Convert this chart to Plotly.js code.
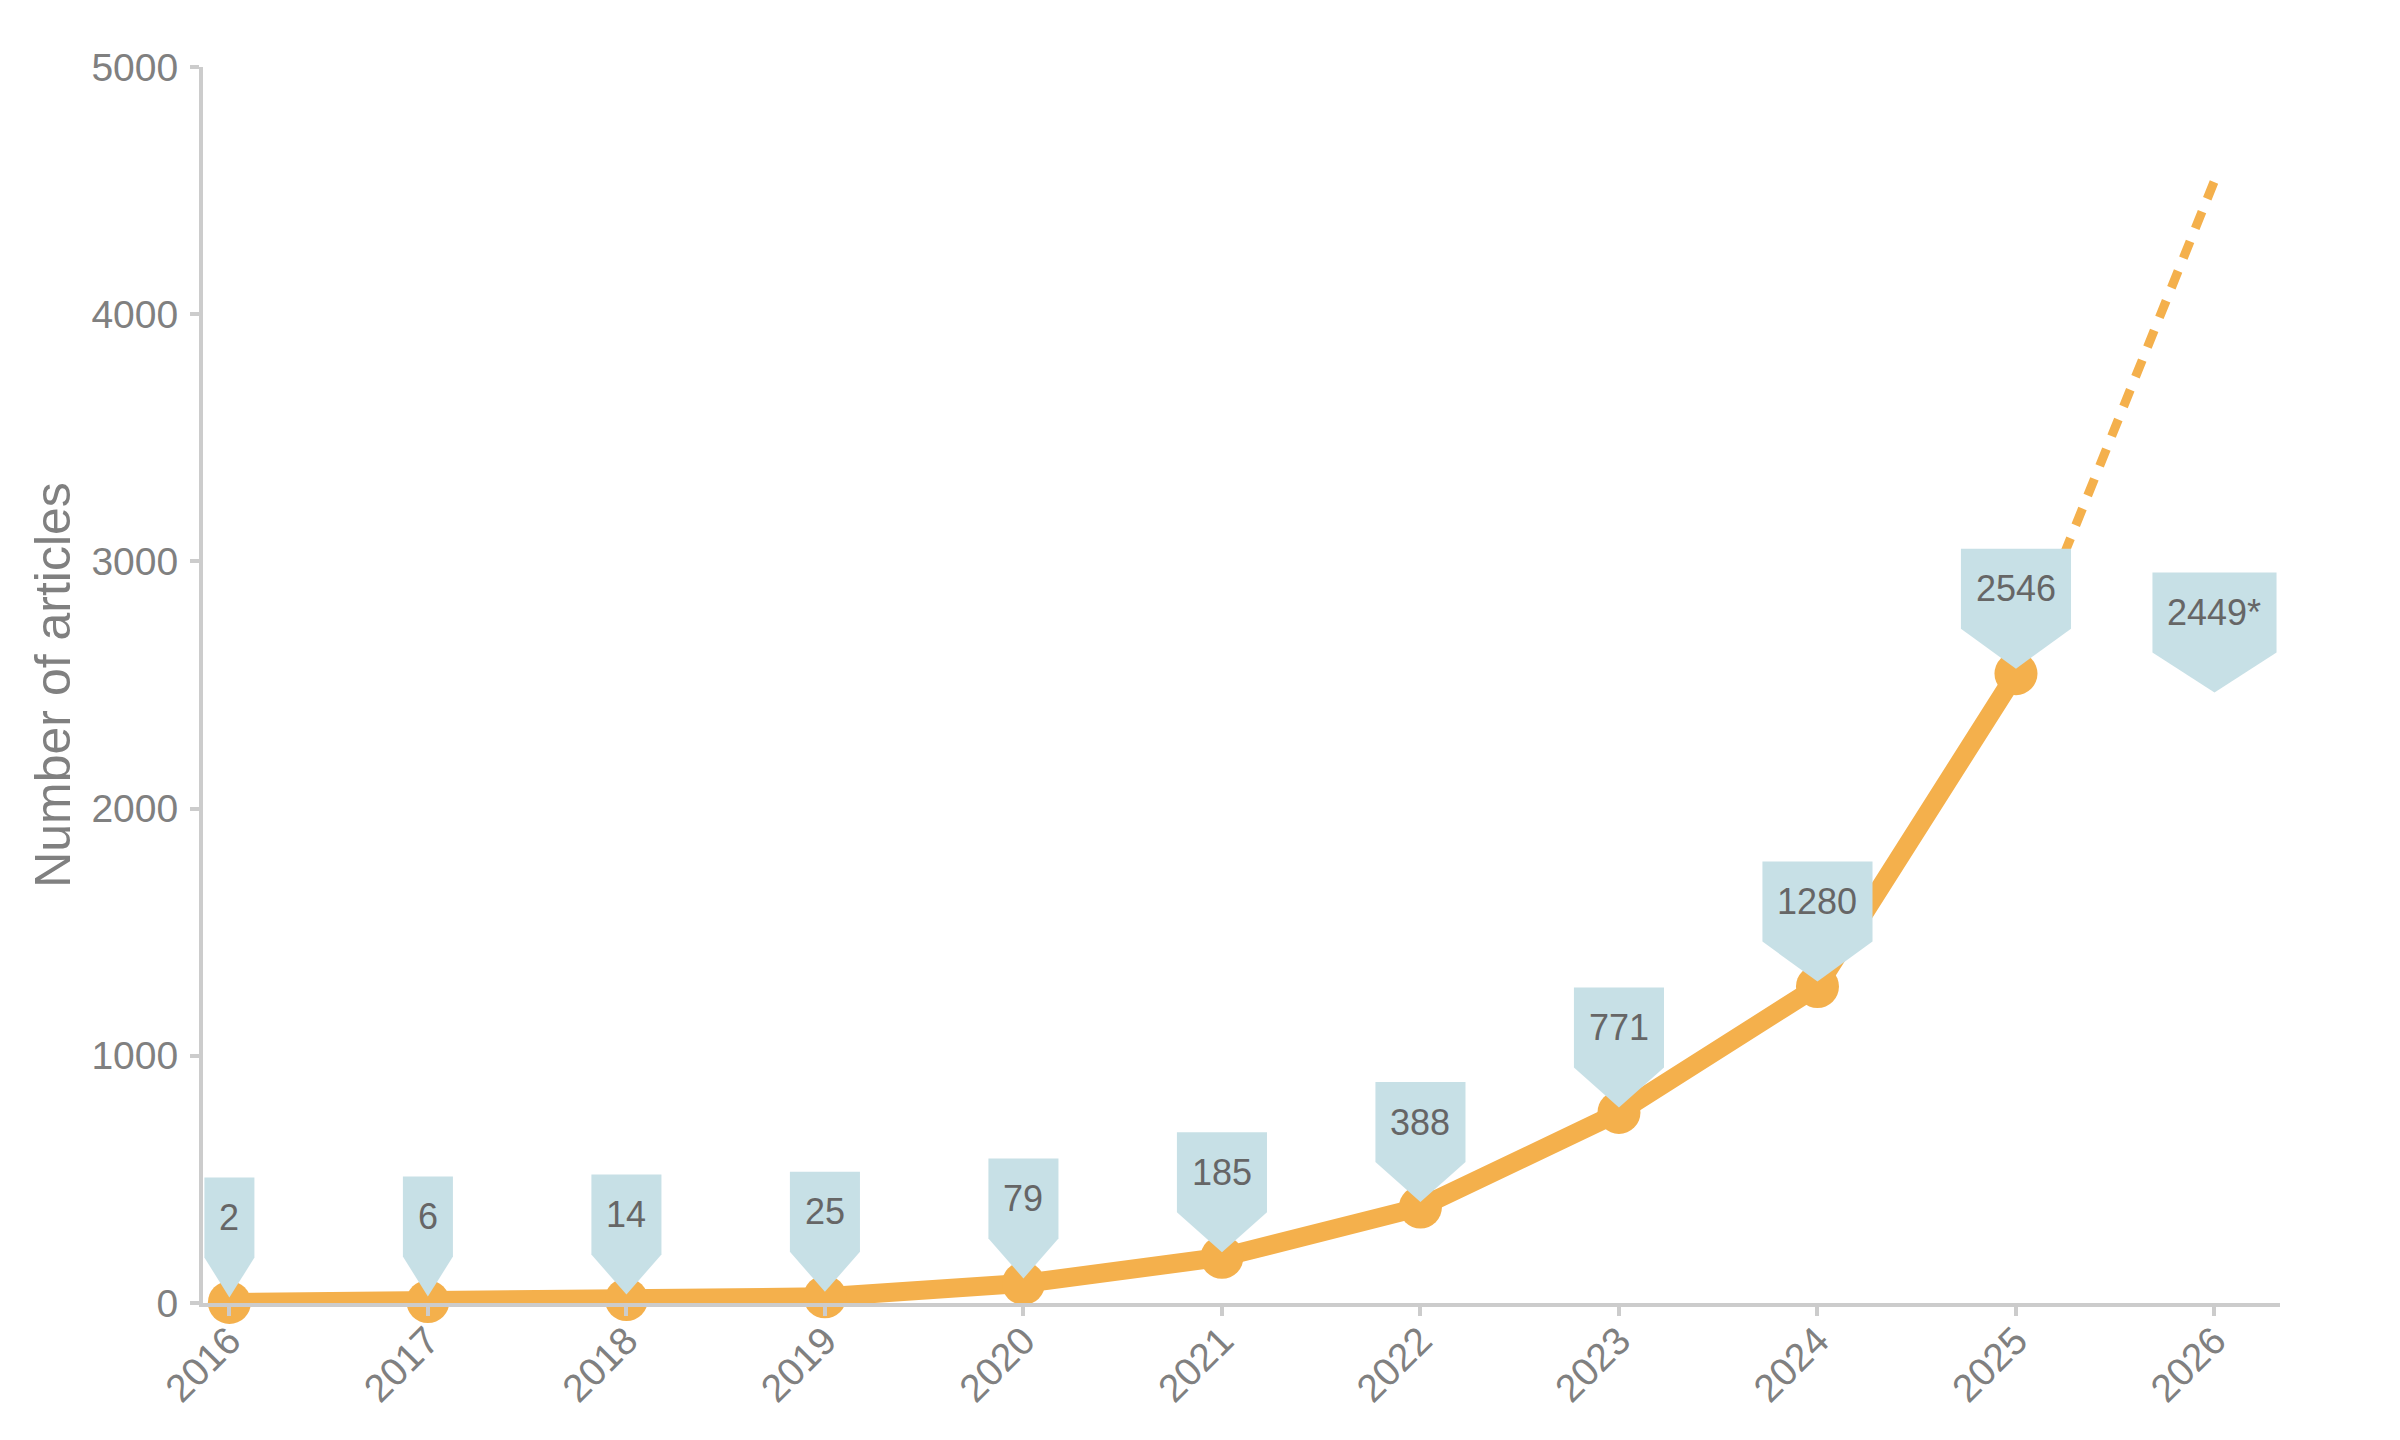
<!DOCTYPE html>
<html>
<head>
<meta charset="utf-8">
<script src="https://cdn.plot.ly/plotly-3.0.1.min.js"></script>
<style>
  html, body { margin: 0; padding: 0; background: #fff; }
  #chart { width: 2400px; height: 1440px; }
</style>
</head>
<body>
<div id="chart"></div>
<script>
// values
const years = [2016, 2017, 2018, 2019, 2020, 2021, 2022, 2023, 2024, 2025];
const articles = [2, 6, 14, 25, 79, 185, 388, 771, 1280, 2546];
const partialYear = 2026;
const partialValue = 2449;          // year to date, shown as "2449*"
const projectedValue = 4540;        // end of the dotted projection
const tickYears = [2016, 2017, 2018, 2019, 2020, 2021, 2022, 2023, 2024, 2025, 2026];

const FONT = '"Liberation Sans", Arial, Helvetica, sans-serif';
const ORANGE = '#f4b04c';
const CALLOUT = '#c7e0e6';
const GREY = '#808080';

// callout geometry in pixels, relative to the data point (y up)
const labelSize = 36;
const gap = 5, tipH = 40, boxH = 80, padX = 15;

const ctx = document.createElement('canvas').getContext('2d');
ctx.font = labelSize + 'px ' + FONT;
const textW = (s) => ctx.measureText(s).width;

// pentagon shaped label pointing down at (x, y)
const callout = (x, y, text) => {
    const hw = textW(text) / 2 + padX;
    return {
        type: 'path',
        xref: 'x', yref: 'y',
        xsizemode: 'pixel', ysizemode: 'pixel',
        xanchor: x, yanchor: y,
        path: `M 0 ${gap} L ${hw} ${gap + tipH} L ${hw} ${gap + tipH + boxH} ` +
              `L ${-hw} ${gap + tipH + boxH} L ${-hw} ${gap + tipH} Z`,
        fillcolor: CALLOUT,
        line: { width: 0 },
        layer: 'above'
    };
};

const calloutText = (x, y, text) => ({
    x: x, y: y, xref: 'x', yref: 'y',
    text: text,
    showarrow: false,
    yshift: gap + tipH + boxH / 2,
    font: { family: FONT, size: labelSize, color: '#666666' }
});

const labels = years.map((yr, i) => [yr, articles[i], String(articles[i])]);
labels.push([partialYear, partialValue, partialValue + '*']);

const projection = {
    type: 'scatter',
    mode: 'lines',
    x: [years[years.length - 1], partialYear],
    y: [articles[articles.length - 1], projectedValue],
    line: { color: ORANGE, width: 9, dash: '18px,14px' },
    hoverinfo: 'skip',
    showlegend: false
};

const counts = {
    type: 'scatter',
    mode: 'lines+markers',
    x: years,
    y: articles,
    line: { color: ORANGE, width: 19 },
    marker: { color: ORANGE, size: 43 },
    cliponaxis: false,
    showlegend: false
};

const axisCommon = {
    showline: true,
    linecolor: '#cccccc',
    linewidth: 4,
    ticks: 'outside',
    ticklen: 9,
    tickwidth: 4,
    tickcolor: '#cccccc',
    showgrid: false,
    zeroline: false,
    tickfont: { family: FONT, size: 39, color: GREY }
};

const layout = {
    width: 2400,
    height: 1440,
    margin: { l: 203, r: 120, t: 67, b: 137 },
    paper_bgcolor: '#ffffff',
    plot_bgcolor: '#ffffff',
    xaxis: Object.assign({}, axisCommon, {
        range: [2015.867, 2026.33],
        tickmode: 'array',
        tickvals: tickYears,
        ticktext: tickYears.map(String),
        tickangle: -45,
        ticklabelstandoff: -14
    }),
    yaxis: Object.assign({}, axisCommon, {
        range: [0, 5000],
        tickvals: [0, 1000, 2000, 3000, 4000, 5000],
        ticklabelstandoff: 4,
        title: { text: 'Number of articles', font: { family: FONT, size: 50, color: GREY }, standoff: 6 }
    }),
    shapes: labels.map(l => callout(l[0], l[1], l[2])),
    annotations: labels.map(l => calloutText(l[0], l[1], l[2]))
};

Plotly.newPlot('chart', [projection, counts], layout, { displayModeBar: false, staticPlot: true });
</script>
</body>
</html>
